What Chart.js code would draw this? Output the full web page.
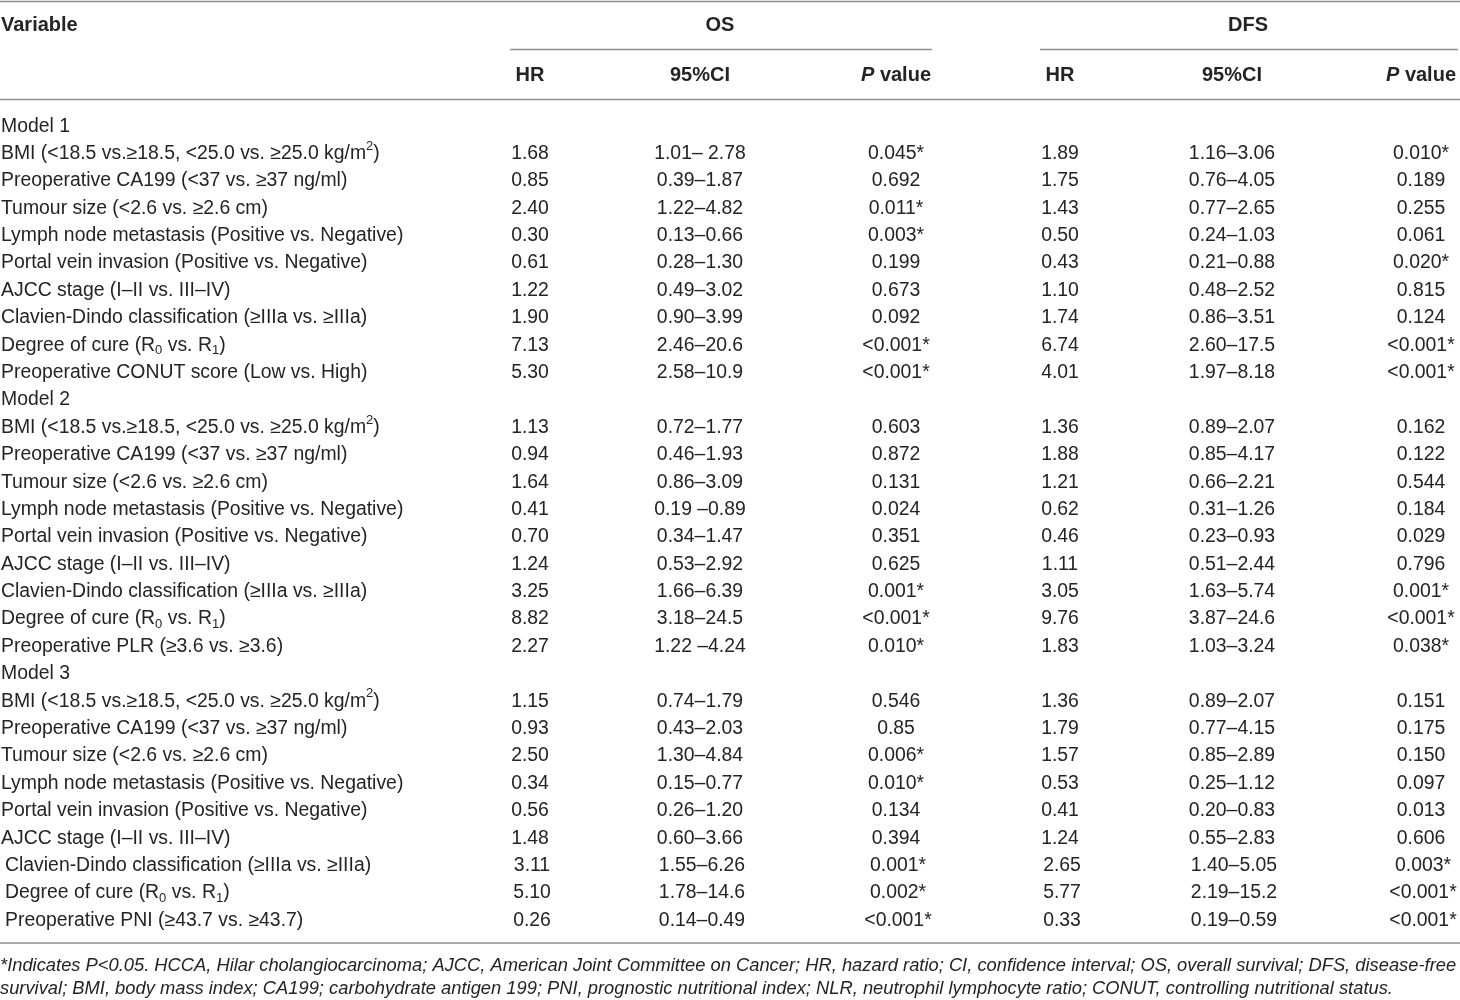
<!DOCTYPE html>
<html>
<head>
    <title>Multivariate Cox analysis</title>
    <script src="https://cdn.jsdelivr.net/npm/chart.js"></script>
    <style>
        body { margin: 0; background: #fff; }
        #wrap { width: 1460px; height: 1000px; position: relative; }
    </style>
</head>
<body>
    <div id="wrap"><canvas id="myChart"></canvas></div>

    <script>
        // ---- data ----
        const variables = [
            'Model 1',
            'BMI (<18.5 vs.\u226518.5, <25.0 vs. \u226525.0 kg/m^2)',
            'Preoperative CA199 (<37 vs. \u226537 ng/ml)',
            'Tumour size (<2.6 vs. \u22652.6 cm)',
            'Lymph node metastasis (Positive vs. Negative)',
            'Portal vein invasion (Positive vs. Negative)',
            'AJCC stage (I\u2013II vs. III\u2013IV)',
            'Clavien-Dindo classification (\u2265IIIa vs. \u2265IIIa)',
            'Degree of cure (R_0 vs. R_1)',
            'Preoperative CONUT score (Low vs. High)',
            'Model 2',
            'BMI (<18.5 vs.\u226518.5, <25.0 vs. \u226525.0 kg/m^2)',
            'Preoperative CA199 (<37 vs. \u226537 ng/ml)',
            'Tumour size (<2.6 vs. \u22652.6 cm)',
            'Lymph node metastasis (Positive vs. Negative)',
            'Portal vein invasion (Positive vs. Negative)',
            'AJCC stage (I\u2013II vs. III\u2013IV)',
            'Clavien-Dindo classification (\u2265IIIa vs. \u2265IIIa)',
            'Degree of cure (R_0 vs. R_1)',
            'Preoperative PLR (\u22653.6 vs. \u22653.6)',
            'Model 3',
            'BMI (<18.5 vs.\u226518.5, <25.0 vs. \u226525.0 kg/m^2)',
            'Preoperative CA199 (<37 vs. \u226537 ng/ml)',
            'Tumour size (<2.6 vs. \u22652.6 cm)',
            'Lymph node metastasis (Positive vs. Negative)',
            'Portal vein invasion (Positive vs. Negative)',
            'AJCC stage (I\u2013II vs. III\u2013IV)',
            'Clavien-Dindo classification (\u2265IIIa vs. \u2265IIIa)',
            'Degree of cure (R_0 vs. R_1)',
            'Preoperative PNI (\u226543.7 vs. \u226543.7)'
        ];

        const osHR = ['', '1.68', '0.85', '2.40', '0.30', '0.61', '1.22', '1.90', '7.13', '5.30',
                      '', '1.13', '0.94', '1.64', '0.41', '0.70', '1.24', '3.25', '8.82', '2.27',
                      '', '1.15', '0.93', '2.50', '0.34', '0.56', '1.48', '3.11', '5.10', '0.26'];
        const osCI = ['', '1.01\u2013 2.78', '0.39\u20131.87', '1.22\u20134.82', '0.13\u20130.66', '0.28\u20131.30', '0.49\u20133.02', '0.90\u20133.99', '2.46\u201320.6', '2.58\u201310.9',
                      '', '0.72\u20131.77', '0.46\u20131.93', '0.86\u20133.09', '0.19 \u20130.89', '0.34\u20131.47', '0.53\u20132.92', '1.66\u20136.39', '3.18\u201324.5', '1.22 \u20134.24',
                      '', '0.74\u20131.79', '0.43\u20132.03', '1.30\u20134.84', '0.15\u20130.77', '0.26\u20131.20', '0.60\u20133.66', '1.55\u20136.26', '1.78\u201314.6', '0.14\u20130.49'];
        const osP = ['', '0.045*', '0.692', '0.011*', '0.003*', '0.199', '0.673', '0.092', '<0.001*', '<0.001*',
                     '', '0.603', '0.872', '0.131', '0.024', '0.351', '0.625', '0.001*', '<0.001*', '0.010*',
                     '', '0.546', '0.85', '0.006*', '0.010*', '0.134', '0.394', '0.001*', '0.002*', '<0.001*'];

        const dfsHR = ['', '1.89', '1.75', '1.43', '0.50', '0.43', '1.10', '1.74', '6.74', '4.01',
                       '', '1.36', '1.88', '1.21', '0.62', '0.46', '1.11', '3.05', '9.76', '1.83',
                       '', '1.36', '1.79', '1.57', '0.53', '0.41', '1.24', '2.65', '5.77', '0.33'];
        const dfsCI = ['', '1.16\u20133.06', '0.76\u20134.05', '0.77\u20132.65', '0.24\u20131.03', '0.21\u20130.88', '0.48\u20132.52', '0.86\u20133.51', '2.60\u201317.5', '1.97\u20138.18',
                       '', '0.89\u20132.07', '0.85\u20134.17', '0.66\u20132.21', '0.31\u20131.26', '0.23\u20130.93', '0.51\u20132.44', '1.63\u20135.74', '3.87\u201324.6', '1.03\u20133.24',
                       '', '0.89\u20132.07', '0.77\u20134.15', '0.85\u20132.89', '0.25\u20131.12', '0.20\u20130.83', '0.55\u20132.83', '1.40\u20135.05', '2.19\u201315.2', '0.19\u20130.59'];
        const dfsP = ['', '0.010*', '0.189', '0.255', '0.061', '0.020*', '0.815', '0.124', '<0.001*', '<0.001*',
                      '', '0.162', '0.122', '0.544', '0.184', '0.029', '0.796', '0.001*', '<0.001*', '0.038*',
                      '', '0.151', '0.175', '0.150', '0.097', '0.013', '0.606', '0.003*', '<0.001*', '<0.001*'];

        const groupHeaders = ['OS', 'DFS'];
        const subHeaders = ['HR', '95%CI', 'P value'];
        const firstHeader = 'Variable';
        const footnote = [
            '*Indicates P<0.05. HCCA, Hilar cholangiocarcinoma; AJCC, American Joint Committee on Cancer; HR, hazard ratio; CI, confidence interval; OS, overall survival; DFS, disease-free',
            'survival; BMI, body mass index; CA199; carbohydrate antigen 199; PNI, prognostic nutritional index; NLR, neutrophil lymphocyte ratio; CONUT, controlling nutritional status.'
        ];

        // ---- layout / style ----
        const FONT = "'Liberation Sans', Arial, sans-serif";
        const TEXT = '#262324';
        const RULE = '#8f8f8f';
        const BODY = 19.4;
        const HEAD = 20;
        const colX = [530, 700, 896, 1060, 1232, 1421];   // x-scale values for the six numeric columns
        const groupX = [720, 1248];
        const groupLine = [[510, 932], [1040, 1458]];
        const indentedRows = [27, 28, 29];

        // draws text with _x subscript and ^x superscript markers
        function richParts(text) {
            const parts = [];
            const re = /([_^])(\w)/g;
            let last = 0, m;
            while ((m = re.exec(text)) !== null) {
                if (m.index > last) parts.push({ t: text.slice(last, m.index), k: 'n' });
                parts.push({ t: m[2], k: m[1] === '_' ? 'sub' : 'sup' });
                last = re.lastIndex;
            }
            if (last < text.length) parts.push({ t: text.slice(last), k: 'n' });
            return parts;
        }

        function drawRich(ctx, text, x, y, size, align) {
            const parts = richParts(text);
            const small = Math.round(size * 0.65);
            let total = 0;
            parts.forEach(p => {
                ctx.font = (p.k === 'n' ? size : small) + 'px ' + FONT;
                p.w = ctx.measureText(p.t).width;
                total += p.w;
            });
            let cx = align === 'center' ? x - total / 2 : x;
            ctx.textAlign = 'left';
            parts.forEach(p => {
                ctx.font = (p.k === 'n' ? size : small) + 'px ' + FONT;
                let dy = 0;
                if (p.k === 'sub') dy = size * 0.28;
                if (p.k === 'sup') dy = -size * 0.38;
                ctx.fillText(p.t, cx, y + dy);
                cx += p.w;
            });
        }

        function hline(ctx, x1, x2, y) {
            ctx.beginPath();
            ctx.moveTo(x1, y);
            ctx.lineTo(x2, y);
            ctx.stroke();
        }

        const tablePlugin = {
            id: 'tablePlugin',
            afterDraw(chart) {
                const ctx = chart.ctx;
                const xs = chart.scales.x;
                const ys = chart.scales.y;
                const top = ys.top;
                ctx.save();
                ctx.fillStyle = TEXT;
                ctx.textBaseline = 'middle';

                // rules
                ctx.strokeStyle = RULE;
                ctx.lineWidth = 1.5;
                hline(ctx, xs.getPixelForValue(0), xs.getPixelForValue(1460), top - 111);
                groupLine.forEach(g => hline(ctx, xs.getPixelForValue(g[0]), xs.getPixelForValue(g[1]), top - 63));
                hline(ctx, xs.getPixelForValue(0), xs.getPixelForValue(1460), top - 13);
                hline(ctx, xs.getPixelForValue(0), xs.getPixelForValue(1460), ys.bottom + 9);

                // header
                ctx.font = 'bold ' + HEAD + 'px ' + FONT;
                ctx.textAlign = 'left';
                ctx.fillText(firstHeader, xs.getPixelForValue(1), top - 87);
                ctx.textAlign = 'center';
                groupHeaders.forEach((g, i) => ctx.fillText(g, xs.getPixelForValue(groupX[i]), top - 87));
                colX.forEach((cx, i) => {
                    const label = subHeaders[i % 3];
                    const px = xs.getPixelForValue(cx);
                    if (label.startsWith('P ')) {
                        ctx.font = 'italic bold ' + HEAD + 'px ' + FONT;
                        const w1 = ctx.measureText('P').width;
                        ctx.font = 'bold ' + HEAD + 'px ' + FONT;
                        const w2 = ctx.measureText(label.slice(1)).width;
                        const sx = px - (w1 + w2) / 2;
                        ctx.textAlign = 'left';
                        ctx.font = 'italic bold ' + HEAD + 'px ' + FONT;
                        ctx.fillText('P', sx, top - 37);
                        ctx.font = 'bold ' + HEAD + 'px ' + FONT;
                        ctx.fillText(label.slice(1), sx + w1, top - 37);
                        ctx.textAlign = 'center';
                    } else {
                        ctx.fillText(label, px, top - 37);
                    }
                });

                // body rows
                const cols = [osHR, osCI, osP, dfsHR, dfsCI, dfsP];
                variables.forEach((v, i) => {
                    const y = ys.getPixelForValue(i);
                    const shift = indentedRows.includes(i) ? 4 : 0;
                    drawRich(ctx, v, xs.getPixelForValue(1 + shift), y, BODY, 'left');
                    cols.forEach((col, c) => {
                        if (col[i]) drawRich(ctx, col[i], xs.getPixelForValue(colX[c] + shift / 2), y, BODY, 'center');
                    });
                });

                // footnote, sized so the first line spans the table width
                ctx.font = 'italic 17px ' + FONT;
                const fsize = 17 * 1456 / ctx.measureText(footnote[0]).width;
                ctx.font = 'italic ' + fsize.toFixed(2) + 'px ' + FONT;
                ctx.textAlign = 'left';
                footnote.forEach((line, i) => {
                    ctx.fillText(line, xs.getPixelForValue(0), ys.bottom + 32 + i * 23);
                });
                ctx.restore();
            }
        };

        const ctx = document.getElementById('myChart').getContext('2d');
        const myChart = new Chart(ctx, {
            type: 'bar',
            data: {
                labels: variables,
                datasets: [{
                    label: 'HR (OS)',
                    data: variables.map(() => null),
                    backgroundColor: 'rgba(0,0,0,0)'
                }]
            },
            options: {
                indexAxis: 'y',
                responsive: true,
                maintainAspectRatio: false,
                animation: false,
                layout: { padding: { top: 112.5, bottom: 66, left: 0, right: 0 } },
                plugins: { legend: { display: false }, tooltip: { enabled: false } },
                scales: {
                    x: { type: 'linear', min: 0, max: 1460, display: false },
                    y: { type: 'category', offset: true, display: false }
                }
            },
            plugins: [tablePlugin]
        });
    </script>
</body>
</html>
